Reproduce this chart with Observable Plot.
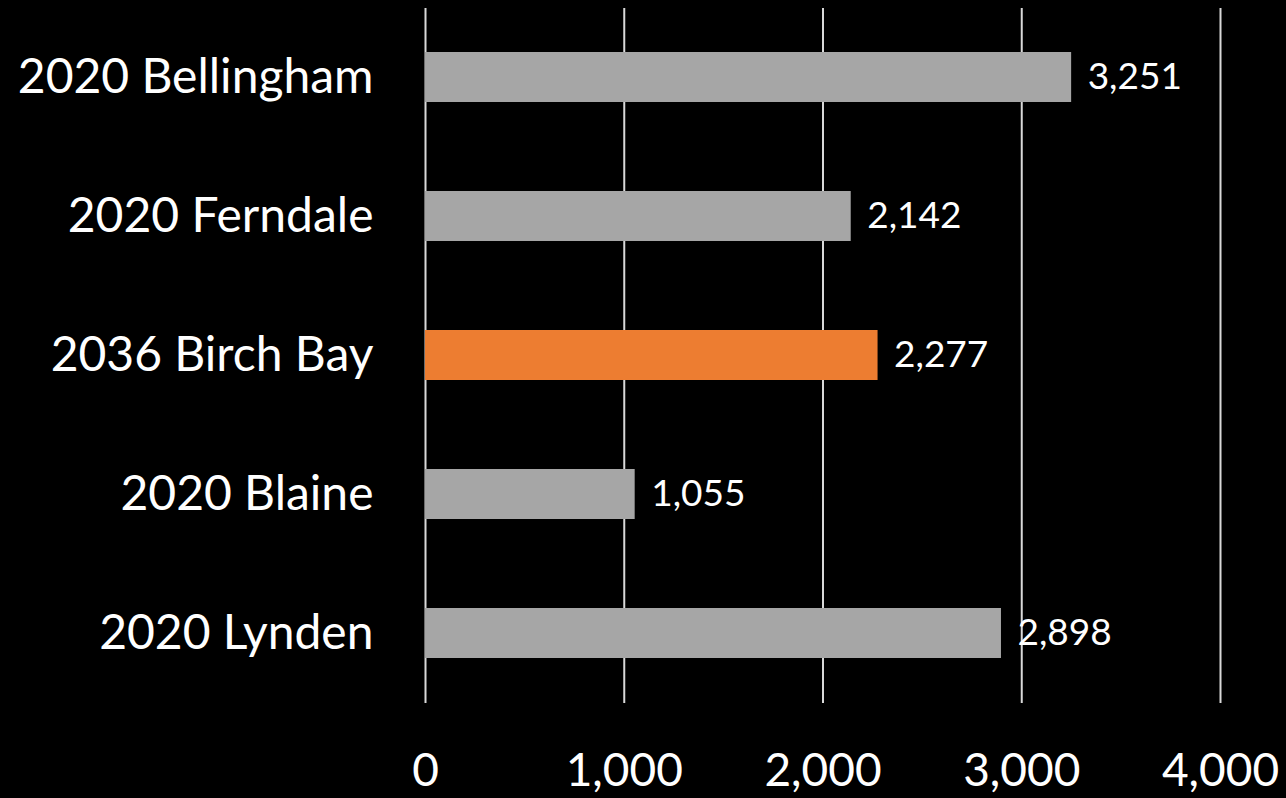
<!DOCTYPE html>
<html>
<head>
<meta charset="utf-8">
<script src="https://cdn.jsdelivr.net/npm/d3@7"></script>
<script src="https://cdn.jsdelivr.net/npm/@observablehq/plot@0.6"></script>
<style>
  html, body { margin: 0; padding: 0; background: #000; }
  #chart svg { display: block; }
</style>
</head>
<body>
<div id="chart"></div>
<script>
const categories = ["2020 Bellingham", "2020 Ferndale", "2036 Birch Bay", "2020 Blaine", "2020 Lynden"];
const values = [3251, 2142, 2277, 1055, 2898];
const highlight = ["2036 Birch Bay"];
const xTicks = [0, 1000, 2000, 3000, 4000];

const data = categories.map((c, i) => ({category: c, value: values[i]}));
const fmt = d3.format(",");
const font = "Lato, 'Open Sans', sans-serif";

const chart = Plot.plot({
  width: 1286,
  height: 798,
  marginTop: 8,
  marginBottom: 95,
  marginLeft: 425,
  marginRight: 66,
  style: {background: "#000", color: "#fff", fontFamily: font},
  x: {domain: [0, 4000], ticks: xTicks, tickFormat: fmt, label: null},
  y: {domain: categories, paddingInner: 0.64, paddingOuter: 0.32, label: null},
  marks: [
    Plot.gridX(xTicks, {stroke: "#d9d9d9", strokeOpacity: 1, strokeWidth: 2}),
    Plot.barX(data, {
      x: "value", y: "category",
      fill: d => highlight.includes(d.category) ? "#ed7d31" : "#a6a6a6"
    }),
    Plot.text(data, {
      x: "value", y: "category", text: d => fmt(d.value),
      textAnchor: "start", dx: 16, fill: "#fff", fontSize: 37, fontFamily: font
    }),
    Plot.axisX(xTicks, {tickSize: 0, tickPadding: 0, tickFormat: fmt, fontSize: 46, fill: "#fff", fontFamily: font, dy: 50, label: null}),
    Plot.axisY({tickSize: 0, tickPadding: 52, fontSize: 48, fill: "#fff", fontFamily: font, label: null})
  ]
});
document.getElementById("chart").appendChild(chart);
</script>
</body>
</html>
